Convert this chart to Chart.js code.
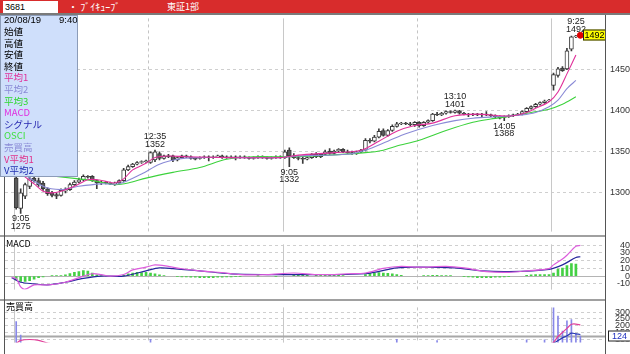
<!DOCTYPE html>
<html lang="ja">
<head>
<meta charset="utf-8">
<title>3681 ブイキューブ</title>
<script src="https://cdn.jsdelivr.net/npm/chart.js@4.4.1/dist/chart.umd.min.js"></script>
<style>
  body{margin:0;width:630px;height:354px;overflow:hidden;background:#fff;position:relative;font-family:"Liberation Sans",Arial,sans-serif}
  canvas{position:absolute;left:0}
  .abs{position:absolute}
  #hdr{left:0;top:0;width:630px;height:13px;background:#d82c2c}
  #hdrLine{left:0;top:13px;width:630px;height:2px;background:#7a7a7a}
  #code{left:3px;top:1px;width:55px;height:12px;background:#fff;color:#000;font-size:9px;line-height:12px;padding-left:2px;box-sizing:border-box}
  #name{left:68px;top:0;color:#fff;font:10px/13px "Noto Sans CJK JP",sans-serif;white-space:pre}
  #mkt{left:167px;top:0;color:#fff;font:9px/13px "Noto Sans CJK JP",sans-serif}
  #info{left:0;top:15px;width:76px;height:160px;background:#cfdffb;border:1px solid #8c9cb8;z-index:5;font:9.5px "Noto Sans CJK JP",sans-serif;color:#000}
  #info div{position:absolute;left:3px;height:11.6px;line-height:11.6px;white-space:nowrap}
  .sep{left:0;width:605px;height:2px;background:#a0a0a0;z-index:4}
  .vline{width:1px;background:#555;z-index:4}
  .ptitle{left:6px;font:9px "Noto Sans CJK JP",sans-serif;color:#000;z-index:4}
</style>
</head>
<body>
<div id="hdr" class="abs"></div>
<div id="code" class="abs">3681</div>
<div id="name" class="abs">・ ﾌﾞｲｷｭｰﾌﾞ</div>
<div id="mkt" class="abs">東証1部</div>
<div id="hdrLine" class="abs"></div>

<canvas id="cPrice" width="630" height="230" style="top:10px"></canvas>
<canvas id="cMacd" width="630" height="74" style="top:230px"></canvas>
<canvas id="cVol" width="630" height="58" style="top:296px"></canvas>

<div class="abs sep" style="top:235px"></div>
<div class="abs sep" style="top:299px"></div>
<div class="abs vline" style="left:4px;top:15px;height:339px"></div>
<div class="abs vline" style="left:605px;top:15px;height:339px"></div>
<div class="abs ptitle" style="top:237px">MACD</div>
<div class="abs ptitle" style="top:300px">売買高</div>

<div id="info" class="abs">
  <div style="top:-2px;font-family:'Liberation Sans';">20/08/19</div>
  <div style="top:-2px;left:58px;font-family:'Liberation Sans';">9:40</div>
  <div style="top:10px">始値</div>
  <div style="top:21.6px">高値</div>
  <div style="top:33.2px">安値</div>
  <div style="top:44.8px">終値</div>
  <div style="top:56.4px;color:#e0309a">平均1</div>
  <div style="top:68px;color:#8a8ad6">平均2</div>
  <div style="top:79.6px;color:#30d830">平均3</div>
  <div style="top:91.2px;color:#e030e0">MACD</div>
  <div style="top:102.8px;color:#2828b0">シグナル</div>
  <div style="top:114.4px;color:#40e040">OSCI</div>
  <div style="top:126px;color:#8a8ad6">売買高</div>
  <div style="top:137.6px;color:#e0308a">V平均1</div>
  <div style="top:149.2px;color:#2030b0">V平均2</div>
</div>

<script>
// === 足の区分 (5分足) ===
function hhmm(m){ return Math.floor(m/60)+':'+String(m%60).padStart(2,'0'); }
const dayTimes = [];
for (let k=0;k<30;k++) dayTimes.push(hhmm(540+5*k));   // 前場 9:00-11:25
for (let k=0;k<30;k++) dayTimes.push(hhmm(750+5*k));   // 後場 12:30-14:55
const labels = ['08/14 14:50','08/14 14:55']
  .concat(dayTimes.map(t=>'08/17 '+t), dayTimes.map(t=>'08/18 '+t), dayTimes.slice(0,12).map(t=>'08/19 '+t));
const dayStartBars = [2,62,122];
const noonBars = [32,92];

// === 四本値 ===
const opens = [1330,1331,
  1318,1281,1296,1308,1318,1315,1312,1305,1300,1298,
  1297,1302,1304,1310,1313,1316,1320,1320,1315,1312,
  1313,1312,1311,1312,1315,1328,1332,1335,1337,1338,
  1337,1340,1348,1342,1345,1345,1340,1343,1345,1344,
  1342,1342,1343,1344,1343,1344,1345,1344,1343,1344,
  1343,1344,1343,1342,1343,1344,1343,1342,1343,1344,
  1343,1352,1345,1343,1342,1341,1343,1347,1344,1347,
  1351,1348,1351,1353,1350,1349,1348,1350,1352,1364,
  1363,1368,1376,1370,1376,1381,1384,1385,1384,1383,
  1386,1382,1386,1388,1396,1395,1397,1399,1398,1400,
  1397,1396,1395,1396,1395,1396,1395,1394,1393,1392,
  1393,1394,1395,1396,1399,1403,1405,1408,1410,1412,
  1431,1443,1452,1451,1475,1490,1491];
const highs = [1332,1333,
  1322,1305,1312,1320,1320,1318,1314,1306,1302,1300,
  1305,1306,1312,1315,1318,1322,1321,1321,1316,1314,
  1314,1313,1313,1316,1330,1334,1336,1338,1339,1340,
  1350,1352,1350,1346,1347,1346,1344,1346,1346,1345,
  1343,1344,1345,1345,1345,1346,1346,1345,1345,1345,
  1345,1345,1344,1344,1345,1345,1344,1344,1345,1345,
  1352,1355,1348,1345,1344,1344,1348,1349,1348,1352,
  1354,1352,1354,1354,1352,1351,1351,1353,1366,1366,
  1370,1378,1378,1377,1383,1386,1386,1386,1386,1387,
  1387,1387,1389,1397,1398,1398,1400,1400,1401,1400.5,
  1398,1397,1397,1397,1397,1399,1396,1395,1394,1394,
  1395,1396,1397,1400,1404,1406,1409,1411,1413,1414,
  1446,1453,1454,1476,1491,1492,1492];
const lows = [1328,1329,
  1280,1275,1293,1305,1313,1308,1303,1297,1295,1293,
  1296,1300,1303,1309,1312,1315,1318,1314,1305,1310,
  1311,1310,1309,1311,1314,1327,1331,1334,1336,1337,
  1336,1338,1340,1341,1343,1338,1339,1342,1343,1341,
  1340,1341,1342,1339,1342,1343,1342,1342,1342,1340,
  1342,1342,1341,1341,1342,1342,1341,1341,1342,1342,
  1342,1332,1342,1340,1336,1340,1342,1343,1343,1346,
  1347,1347,1349,1349,1348,1347,1347,1349,1351,1361,
  1362,1367,1369,1369,1375,1380,1383,1383,1382,1381,
  1380,1381,1385,1387,1394,1394,1396,1397,1397,1396,
  1395,1393,1394,1394,1393,1394,1393,1391,1390,1388,
  1392,1393,1394,1395,1398,1402,1404,1407,1409,1411,
  1425,1441,1448,1450,1473,1489,1490];
const closes = [1331,1330,
  1282,1300,1310,1317,1315,1310,1305,1299,1297,1296,
  1303,1304,1310,1313,1316,1320,1319,1315,1312,1313,
  1312,1311,1312,1315,1328,1332,1335,1337,1338,1339,
  1349,1350,1342,1345,1344,1340,1343,1345,1344,1342,
  1341,1343,1344,1343,1344,1345,1344,1343,1344,1343,
  1344,1343,1342,1343,1344,1343,1342,1343,1344,1343,
  1350,1345,1343,1342,1341,1343,1347,1344,1347,1350,
  1348,1351,1353,1350,1349,1348,1350,1352,1364,1363,
  1368,1375,1370,1376,1381,1384,1385,1384,1383,1386,
  1382,1386,1388,1396,1395,1397,1399,1398,1400,1397,
  1396,1395,1396,1395,1396,1395,1394,1393,1391,1393,
  1394,1395,1396,1399,1403,1405,1408,1410,1412,1413,
  1444,1451,1449,1473,1490,1491.5,1492];

// 移動平均 (読み取り値: [足番号, 値])
const ma1 = [[0,1331],[3,1323],[6,1311],[8,1302],[10,1300],[12,1302],[15,1308],[18,1316],[20,1316],[22,1314],[24,1312],[26,1317],[28,1328],[31,1336],[33,1343],[36,1345],[40,1344],[50,1343],[61,1343],[65,1346],[73,1349],[79,1352],[83,1363],[87,1375],[91,1382],[95,1385],[100,1394],[105,1396],[110,1394],[113,1394],[116,1398],[118,1403],[121,1411],[123,1423],[125,1445],[127,1468]];
const ma2 = [[0,1332],[2,1329],[8,1308],[12,1304],[16,1308],[21,1311],[25,1311],[30,1323],[34,1335],[38,1341],[42,1343],[50,1343],[61,1343],[65,1345],[76,1347],[80,1352],[85,1363],[89,1372],[95,1382],[100,1388],[104,1391],[110,1393],[115,1395],[118,1398],[121,1405],[123,1413],[125,1427],[127,1437]];
const ma3 = [[0,1326],[2,1325],[16,1317],[20,1314],[24,1310],[27,1312],[31,1318],[37,1325],[43,1331],[49,1341],[55,1344],[62,1344],[69,1345],[80,1349],[84,1352],[87,1357],[92,1364],[98,1376],[104,1386],[108,1390],[113,1394],[117,1398],[121,1402],[124,1408],[127,1417]];

// 注記 (高値・安値)
const markBars  = [3,33,63,100,111,127];
const markTimes = ['9:05','12:35','9:05','13:10','14:05','9:25'];
const markPrices= [1275,1352,1332,1401,1388,1492];
const markSide  = ['low','high','low','high','low','high'];
const lastBar = 128, lastPrice = 1492, lastVolume = 124;

// MACD
const macd = [[1,-2],[2,-3],[3,-14],[4,-17],[6,-11.5],[9,-11.5],[13,-8],[17,0],[19,3],[21,2],[23,0],[26,2],[28,8],[31,11.5],[33,14.5],[36,12.5],[39,9.5],[43,6.8],[49,3.9],[52,1.9],[58,2],[64,4],[69,2],[73,2],[76,3],[80,4],[84,10],[88,12.5],[92,11.5],[98,12.5],[102,10.5],[107,5.8],[112,4.9],[116,6.8],[121,9.7],[122,14.5],[124,22],[125,27],[127,38.5],[128,39.8]];
const signal = [[1,-2],[3,-8],[6,-10],[9,-11.5],[13,-8],[17,-3],[21,0],[26,0],[31,6.8],[34,10.5],[37,9.7],[43,6.8],[50,2.9],[58,2],[69,2],[80,3],[87,10.5],[92,11.5],[100,10.5],[106,6.8],[112,5.8],[121,8.7],[124,14.5],[127,24],[128,25]];
const osci = [[2,-5],[3,-7],[4,-7],[5,-6],[6,-4],[7,-2],[8,-1],[10,0.5],[11,0.5],[12,0.6],[13,1.6],[14,3.2],[15,4.9],[16,5.8],[17,7],[18,6.5],[19,4],[20,1.6],[21,0.8],[26,1],[27,3],[28,4],[29,5],[30,4.5],[31,5],[32,4],[33,3],[34,1.5],[35,0.5],[38,-0.5],[39,-1],[40,-1],[41,-1.5],[42,-1.5],[43,-2],[44,-2],[45,-2],[46,-2],[47,-1.5],[48,-1.5],[49,-1],[50,-1],[51,-0.5],[52,-0.5],[56,0.3],[60,-0.5],[64,1],[65,1],[66,1],[67,1],[69,1],[70,1],[71,1],[72,1.2],[73,1],[74,1],[75,0.8],[80,2],[81,3.5],[82,4],[83,4.5],[84,4],[85,3.5],[86,3],[87,2],[88,1],[93,0.5],[94,0.8],[95,1],[96,1],[97,0.8],[98,0.6],[99,0.5],[102,-0.5],[103,-1],[104,-1.5],[105,-2],[106,-2],[107,-2],[108,-2],[109,-1.5],[110,-1.5],[111,-1],[112,-0.5],[116,1],[117,1.5],[118,2],[119,2],[120,2],[121,2],[122,4],[123,9],[124,10.4],[125,13.6],[126,16.2],[127,15.5]];

// 売買高
const volume = [[2,230],[3,130],[4,70],[5,60],[32,100],[87,100],[96,90],[116,95],[120,95],[122,380],[123,270],[124,160],[125,235],[126,245],[127,140],[128,124]];
const vma1 = [[0,60],[2,70],[3,92],[5,98],[7,92],[9,72],[12,55],[121,58],[122,78],[123,120],[124,150],[125,180],[126,210],[127,212],[128,205]];
const vma2 = [[0,50],[6,60],[12,50],[121,50],[122,70],[123,90],[124,110],[125,125],[126,145],[127,140],[128,135]];

// 目盛
const priceTicks = [1300,1350,1400,1450];
const macdTicks = [-10,0,10,20,30,40];
const volTicks = [100,150,200,250,300];

// Helpers
const toPts = (arr)=> arr.map(([i,v])=>({x:labels[i], y:v}));
Chart.defaults.font.family = "'Liberation Sans', Arial, sans-serif";

// 補助線 (日付区切り・昼休み・水平線)
const guides = {
  id:'guides',
  beforeDatasetsDraw(chart, args, opts){
    const {ctx, chartArea:a, scales:{x,y}} = chart;
    const half = (x.getPixelForValue(1)-x.getPixelForValue(0))/2;
    ctx.save();
    ctx.lineWidth = 1;
    ctx.strokeStyle = '#c4c4c4';
    ctx.setLineDash([3,3]);
    noonBars.forEach(i=>{
      const px = Math.round(x.getPixelForValue(i)-half)+0.5;
      ctx.beginPath(); ctx.moveTo(px,a.top); ctx.lineTo(px,a.bottom); ctx.stroke();
    });
    ctx.setLineDash([]);
    ctx.strokeStyle = '#c8c8c8';
    dayStartBars.forEach(i=>{
      const px = Math.round(x.getPixelForValue(i)-half)+0.5;
      ctx.beginPath(); ctx.moveTo(px,a.top); ctx.lineTo(px,a.bottom); ctx.stroke();
    });
    (opts.hLines||[]).forEach(v=>{
      const py = Math.round(y.getPixelForValue(v))+0.5;
      ctx.strokeStyle = opts.hColor||'#b0b0b0';
      ctx.lineWidth = opts.hWidth||1;
      ctx.beginPath(); ctx.moveTo(a.left,py); ctx.lineTo(a.right,py); ctx.stroke();
    });
    ctx.restore();
  }
};

// 高値安値の注記と現在値ボックス
const marks = {
  id:'marks',
  afterDraw(chart, args, opts){
    const {ctx, scales:{x,y}} = chart;
    ctx.save();
    ctx.font = "9px 'Liberation Sans', Arial, sans-serif";
    ctx.fillStyle = '#222';
    ctx.textAlign = 'center';
    ctx.textBaseline = 'middle';
    (opts.bars||[]).forEach((b,k)=>{
      const px = x.getPixelForValue(b), py = y.getPixelForValue(opts.prices[k]);
      if (opts.side[k]==='high'){
        ctx.fillText(opts.times[k], px, py-13.5);
        ctx.fillText(String(opts.prices[k]), px, py-5.5);
      } else {
        ctx.fillText(opts.times[k], px, py+5.5);
        ctx.fillText(String(opts.prices[k]), px, py+13);
      }
    });
    if (opts.box){
      const py = Math.round(y.getPixelForValue(opts.box.value));
      const bw = 23;
      const bx = opts.box.inside ? chart.chartArea.right-bw+1 : chart.chartArea.right+3;
      ctx.fillStyle = opts.box.bg; ctx.fillRect(bx, py-5.5, bw, 11);
      ctx.strokeStyle = '#222'; ctx.lineWidth = 1; ctx.strokeRect(bx+0.5, py-5, bw-1, 10);
      ctx.fillStyle = opts.box.fg;
      ctx.fillText(String(opts.box.value), bx+bw/2, py+0.5);
    }
    ctx.restore();
  }
};

function panelOptions(min, max, ticks, pad, tickPad, extra){
  return {
    animation:false, responsive:false,
    layout:{padding:{left:5, right:0, top:pad[0], bottom:pad[1]}},
    plugins:Object.assign({legend:{display:false}, tooltip:{enabled:false}}, extra),
    scales:{
      x:{display:false},
      y:{ position:'right', min, max,
          afterBuildTicks: s=>{ s.ticks = ticks.map(v=>({value:v})); },
          afterFit: s=>{ s.width = 25; },
          grid:{color:'#cfcfcf', drawTicks:false},
          border:{display:false, dash:[3,3]},
          ticks:{crossAlign:'far', padding:tickPad, color:'#333', font:{size:9},
                 autoSkip:false, callback:v=>String(v)} }
    }
  };
}

// 価格
new Chart(document.getElementById('cPrice'), {
  type:'bar',
  data:{ labels, datasets:[
    {type:'scatter', data:[{x:labels[lastBar], y:lastPrice}], backgroundColor:'#e00000', borderColor:'#e00000', pointRadius:3, order:0},
    {type:'line', data:toPts(ma1), borderColor:'#e0309a', borderWidth:1.1, pointRadius:0, tension:0.3, order:1},
    {type:'line', data:toPts(ma2), borderColor:'#8a8ad6', borderWidth:1.1, pointRadius:0, tension:0.3, order:1},
    {type:'line', data:toPts(ma3), borderColor:'#3cd23c', borderWidth:1.1, pointRadius:0, tension:0.3, order:1},
    {data:opens.map((o,i)=>[o,closes[i]]), backgroundColor:opens.map((o,i)=>closes[i]>=o?'#ffffff':'#5a5a5a'),
     borderColor:'#3a3a3a', borderWidth:1, borderSkipped:false, barThickness:4, grouped:false, order:3},
    {data:lows.map((l,i)=>[l,highs[i]]), backgroundColor:'#3a3a3a', barThickness:1, grouped:false, order:4}
  ]},
  options: panelOptions(1252.8, 1512.6, priceTicks, [6,4], 3, {
    guides:{},
    marks:{bars:markBars, times:markTimes, prices:markPrices, side:markSide,
           box:{value:lastPrice, bg:'#ffff00', fg:'#000', inside:true}}
  }),
  plugins:[guides, marks]
});

// MACD
new Chart(document.getElementById('cMacd'), {
  type:'bar',
  data:{ labels, datasets:[
    {type:'line', data:toPts(macd), borderColor:'#dc5cdc', borderWidth:1.2, pointRadius:0, tension:0.3, order:1},
    {type:'line', data:toPts(signal), borderColor:'#26269c', borderWidth:1.2, pointRadius:0, tension:0.3, order:1},
    {data:toPts(osci), backgroundColor:'#44d044', barThickness:2, order:3}
  ]},
  options: panelOptions(-17.5, 41, macdTicks, [7,5], 9, {guides:{hLines:[0], hColor:'#b4b4b4'}}),
  plugins:[guides]
});

// 売買高
new Chart(document.getElementById('cVol'), {
  type:'bar',
  data:{ labels, datasets:[
    {type:'line', data:toPts(vma1), borderColor:'#e0409a', borderWidth:1.2, pointRadius:0, tension:0.3, order:1},
    {type:'line', data:toPts(vma2), borderColor:'#2838b0', borderWidth:1.2, pointRadius:0, tension:0.3, order:1},
    {data:toPts(volume), backgroundColor:'#8888e8', barThickness:1, order:3}
  ]},
  options: panelOptions(75, 335, volTicks, [6,0], 6, {
    guides:{hLines:[lastVolume], hColor:'#a8a8a8', hWidth:2},
    marks:{box:{value:lastVolume, bg:'#ffffff', fg:'#2030c0', inside:false}}
  }),
  plugins:[guides, marks]
});
</script>
</body>
</html>
